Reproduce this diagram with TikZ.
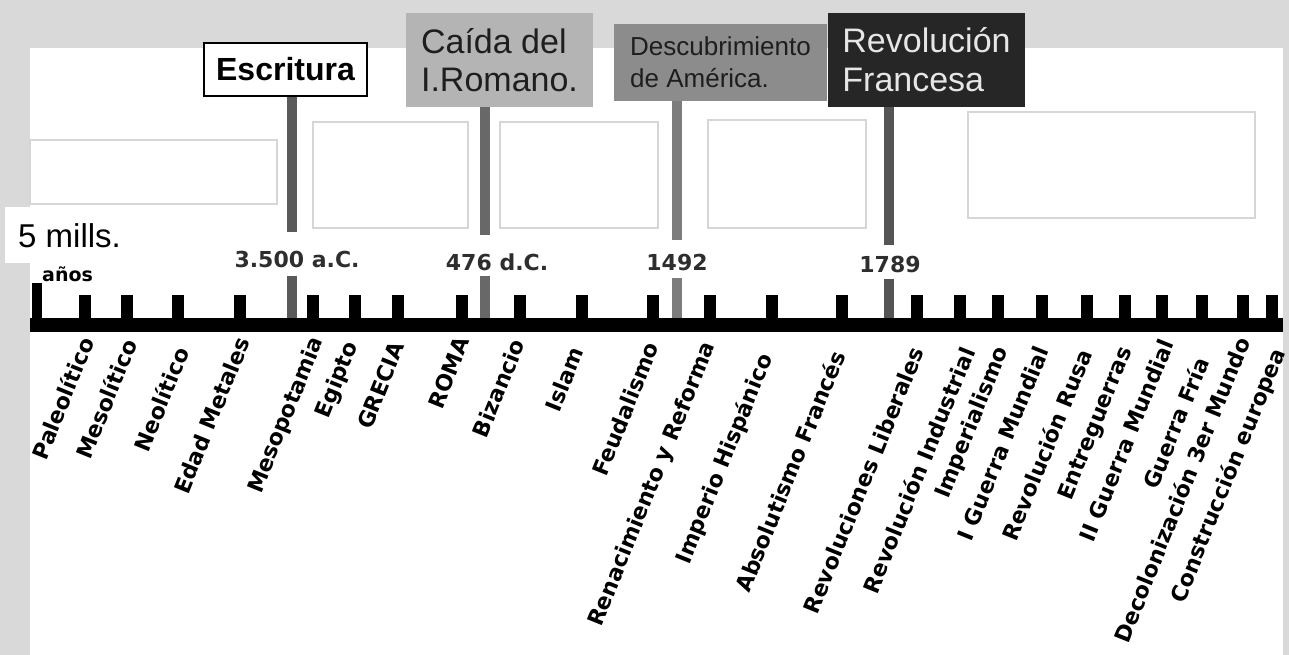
\documentclass[tikz,border=0pt]{standalone}
\usepackage{fontspec}
\setmainfont{Liberation Sans}
\newfontfamily\lblfont{DejaVu Sans}
\definecolor{bandgray}{HTML}{D9D9D9}
\definecolor{ghostgray}{HTML}{D6D6D6}
\definecolor{romagray}{HTML}{B4B4B4}
\definecolor{amergray}{HTML}{8C8C8C}
\definecolor{revblack}{HTML}{262626}
\definecolor{revtext}{HTML}{E6E6E6}
\definecolor{hdrtext}{HTML}{1E1E1E}
\definecolor{yeartext}{HTML}{2E2E2E}
\definecolor{barA}{HTML}{5A5A5A}
\definecolor{barB}{HTML}{686868}
\definecolor{barC}{HTML}{7C7C7C}
\definecolor{barD}{HTML}{555555}
\begin{document}
\begin{tikzpicture}[x=1pt,y=-1pt,
  hdr/.style={rectangle, inner sep=0pt, align=left, text=hdrtext},
  bar/.style={line width=10pt},
  tickmark/.style={line width=12pt},
  axisline/.style={line width=14pt},
  era/.style={anchor=east, rotate=68, inner sep=0pt, font=\lblfont\bfseries\fontsize{22}{24}\selectfont},
  year/.style={inner sep=0pt, anchor=base, text=yeartext, font=\lblfont\bfseries\fontsize{22}{26}\selectfont},
  ghost/.style={draw=ghostgray, line width=1.5pt, inner sep=0pt}
]
\useasboundingbox (0,0) rectangle (1289,655);
% background
\fill[white] (0,0) rectangle (1289,655);
\fill[bandgray] (0,0) rectangle (1289,48);
\fill[bandgray] (0,0) rectangle (30,655);
\fill[bandgray] (1283,0) rectangle (1289,655);

% faint empty boxes
\node[ghost, minimum width=247, minimum height=64] (g1) at (153.5,172) {};
\node[ghost, minimum width=155, minimum height=106] (g2) at (390.5,175) {};
\node[ghost, minimum width=158, minimum height=106] (g3) at (579,175) {};
\node[ghost, minimum width=158, minimum height=108] (g4) at (787,174) {};
\node[ghost, minimum width=287, minimum height=106] (g5) at (1111.5,165) {};

% header boxes
\node[hdr, draw=black, line width=2pt, fill=white, minimum width=163, minimum height=53,
      font=\bfseries\fontsize{32}{36}\selectfont, text=black] (escr) at (285.5,69.5) {Escritura};
\node[hdr, fill=romagray, minimum width=187, minimum height=94,
      font=\fontsize{34}{38}\selectfont] (rom) at (499.5,60) {Caída del\\I.Romano.};
\node[hdr, fill=amergray, minimum width=213, minimum height=77,
      font=\fontsize{26}{32}\selectfont] (amer) at (720.5,62.5) {Descubrimiento\\de América.};
\node[hdr, fill=revblack, minimum width=197, minimum height=94, text=revtext,
      font=\fontsize{34}{39}\selectfont] (rev) at (926.5,60) {Revolución\\Francesa};

% year labels
\node[year] (y1) at (297,267) {3.500 a.C.};
\node[year] (y2) at (497,270) {476 d.C.};
\node[year] (y3) at (677,270) {1492};
\node[year] (y4) at (890,272) {1789};

% axis anchor points
\coordinate (a1) at (292,320);
\coordinate (a2) at (485,320);
\coordinate (a3) at (677,320);
\coordinate (a4) at (889,320);

% milestone bars
\draw[bar, draw=barA, shorten >=18pt] (escr.south -| a1) -- (y1.north -| a1);
\draw[bar, draw=barA, shorten <=8pt] (y1.south -| a1) -- (a1);
\draw[bar, draw=barB, shorten >=18pt] (rom.south -| a2) -- (y2.north -| a2);
\draw[bar, draw=barB, shorten <=5pt] (y2.south -| a2) -- (a2);
\draw[bar, draw=barC, shorten >=13pt] (amer.south -| a3) -- (y3.north -| a3);
\draw[bar, draw=barC, shorten <=7pt] (y3.south -| a3) -- (a3);
\draw[bar, draw=barD, shorten >=10pt] (rev.south -| a4) -- (y4.north -| a4);
\draw[bar, draw=barD, shorten <=6pt] (y4.south -| a4) -- (a4);

% ticks and axis
\draw[line width=10pt] (37,283) -- (37,322);
\foreach \x in {85,127,178,240,313,355,398,462,520,582,653,710,772,842,917,960,998,1042,1087,1125,1162,1202,1243,1272}
  \draw[tickmark] (\x,295) -- (\x,322);
\coordinate (axL) at (30,325);
\coordinate (axR) at (1283,325);
\draw[axisline] (axL) -- (axR);

% start label
\node[fill=white, inner sep=0pt, minimum width=120, minimum height=56, anchor=north west] (mills) at (5,207) {};
\node[anchor=base west, inner sep=0pt, font=\fontsize{33}{36}\selectfont] (millst) at (18,247) {5 mills.};
\node[anchor=base west, inner sep=0pt, font=\lblfont\bfseries\fontsize{19}{22}\selectfont] (anos) at (42,281) {años};

% era labels
\node[era] (e1) at (87,338) {Paleolítico};
\node[era] (e2) at (130,340) {Mesolítico};
\node[era] (e3) at (182,348) {Neolítico};
\node[era] (e4) at (243,338) {Edad Metales};
\node[era] (e5) at (318,338) {Mesopotamia};
\node[era] (e6) at (353,343) {Egipto};
\node[era] (e7) at (398,343) {GRECIA};
\node[era] (e8) at (463,338) {ROMA};
\node[era] (e9) at (518,340) {Bizancio};
\node[era] (e10) at (577,348) {Islam};
\node[era] (e11) at (652,343) {Feudalismo};
\node[era] (e12) at (710,343) {Renacimiento y Reforma};
\node[era] (e13) at (767,355) {Imperio Hispánico};
\node[era] (e14) at (838,352) {Absolutismo Francés};
\node[era] (e15) at (917,348) {Revoluciones Liberales};
\node[era] (e16) at (968,348) {Revolución Industrial};
\node[era] (e17) at (1003,348) {Imperialismo};
\node[era] (e18) at (1042,347) {I Guerra Mundial};
\node[era] (e19) at (1085,350) {Revolución Rusa};
\node[era] (e20) at (1127,348) {Entreguerras};
\node[era] (e21) at (1167,340) {II Guerra Mundial};
\node[era] (e22) at (1202,358) {Guerra Fría};
\node[era] (e23) at (1243,338) {Decolonización 3er Mundo};
\node[era] (e24) at (1280,350) {Construcción europea};
\end{tikzpicture}
\end{document}
